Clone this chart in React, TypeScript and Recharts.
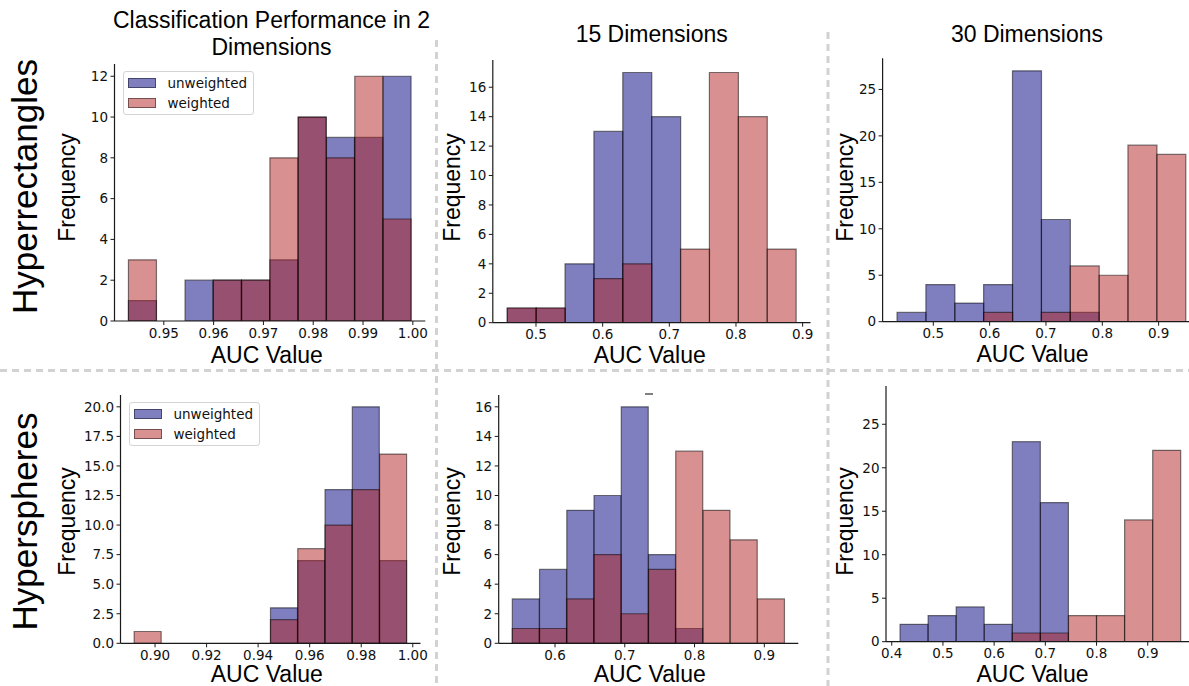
import React from "react";
import { ComposedChart, Bar, XAxis, YAxis, Legend } from "recharts";

// --- data (10 histogram bins per panel) ---
const seriesNames = ["unweighted", "weighted"];
const rowLabels = ["Hyperrectangles", "Hyperspheres"];
const colTitles = [["Classification Performance in 2", "Dimensions"], ["15 Dimensions"], ["30 Dimensions"]];

const rect2Unweighted = [1, 0, 2, 2, 2, 3, 10, 9, 9, 12];
const rect2Weighted = [3, 0, 0, 2, 2, 8, 10, 8, 12, 5];
const rect15Unweighted = [1, 1, 4, 13, 17, 14, 0, 0, 0, 0];
const rect15Weighted = [1, 1, 0, 3, 4, 0, 5, 17, 14, 5];
const rect30Unweighted = [1, 4, 2, 4, 27, 11, 1, 0, 0, 0];
const rect30Weighted = [0, 0, 0, 1, 0, 1, 6, 5, 19, 18];
const sph2Unweighted = [0, 0, 0, 0, 0, 3, 7, 13, 20, 7];
const sph2Weighted = [1, 0, 0, 0, 0, 2, 8, 10, 13, 16];
const sph15Unweighted = [3, 5, 9, 10, 16, 6, 1, 0, 0, 0];
const sph15Weighted = [1, 1, 3, 6, 2, 5, 13, 9, 7, 3];
const sph30Unweighted = [2, 3, 4, 2, 23, 16, 0, 0, 0, 0];
const sph30Weighted = [0, 0, 0, 0, 1, 1, 3, 3, 14, 22];

// first and last bin edge of each histogram
const rect2Range = [0.9429, 0.9997];
const rect15Range = [0.4569, 0.8901];
const rect30Range = [0.4356, 0.948];
const sph2Range = [0.8919, 0.9977];
const sph15Range = [0.5388, 0.9292];
const sph30Range = [0.4162, 0.9645];

const rect2XTicks = [0.95, 0.96, 0.97, 0.98, 0.99, 1.0];
const rect15XTicks = [0.5, 0.6, 0.7, 0.8, 0.9];
const rect30XTicks = [0.5, 0.6, 0.7, 0.8, 0.9];
const sph2XTicks = [0.9, 0.92, 0.94, 0.96, 0.98, 1.0];
const sph15XTicks = [0.6, 0.7, 0.8, 0.9];
const sph30XTicks = [0.4, 0.5, 0.6, 0.7, 0.8, 0.9];

const rect2YTicks = [0, 2, 4, 6, 8, 10, 12];
const rect15YTicks = [0, 2, 4, 6, 8, 10, 12, 14, 16];
const rect30YTicks = [0, 5, 10, 15, 20, 25];
const sph2YTicks = [0, 2.5, 5, 7.5, 10, 12.5, 15, 17.5, 20];
const sph15YTicks = [0, 2, 4, 6, 8, 10, 12, 14, 16];
const sph30YTicks = [0, 5, 10, 15, 20, 25];

const buildRows = (range: number[], u: number[], w: number[]) => {
  const step = (range[1] - range[0]) / u.length;
  return u.map((v, i) => ({ auc: range[0] + step * (i + 0.5), unweighted: v, weighted: w[i] }));
};

const panels = [
  { rows: buildRows(rect2Range, rect2Unweighted, rect2Weighted), xDomain: [0.9401, 1.0025], yMax: 12.6, xTicks: rect2XTicks, yTicks: rect2YTicks, xDec: 2, yDec: 0, legend: true,
    plot: { l: 114.5, t: 64, r: 425.3, b: 321 }, box: { l: 70, t: 54, r: 436, b: 350 } },
  { rows: buildRows(rect15Range, rect15Unweighted, rect15Weighted), xDomain: [0.4352, 0.9118], yMax: 17.85, xTicks: rect15XTicks, yTicks: rect15YTicks, xDec: 1, yDec: 0, legend: false,
    plot: { l: 492.8, t: 60, r: 810.5, b: 322.7 }, box: { l: 450, t: 50, r: 826, b: 350 } },
  { rows: buildRows(rect30Range, rect30Unweighted, rect30Weighted), xDomain: [0.41, 0.9736], yMax: 28.35, xTicks: rect30XTicks, yTicks: rect30YTicks, xDec: 1, yDec: 0, legend: false,
    plot: { l: 882.6, t: 58.3, r: 1200.1, b: 321.7 }, box: { l: 845, t: 48, r: 1215, b: 350 } },
  { rows: buildRows(sph2Range, sph2Unweighted, sph2Weighted), xDomain: [0.8866, 1.003], yMax: 21, xTicks: sph2XTicks, yTicks: sph2YTicks, xDec: 2, yDec: 1, legend: true,
    plot: { l: 120.5, t: 395, r: 420.5, b: 643.3 }, box: { l: 70, t: 385, r: 436, b: 672 } },
  { rows: buildRows(sph15Range, sph15Unweighted, sph15Weighted), xDomain: [0.5193, 0.9487], yMax: 16.8, xTicks: sph15XTicks, yTicks: sph15YTicks, xDec: 1, yDec: 0, legend: false,
    plot: { l: 498.7, t: 395, r: 798.3, b: 643.3 }, box: { l: 455, t: 385, r: 826, b: 672 } },
  { rows: buildRows(sph30Range, sph30Unweighted, sph30Weighted), xDomain: [0.3888, 0.9919], yMax: 29.4, xTicks: sph30XTicks, yTicks: sph30YTicks, xDec: 1, yDec: 0, legend: false,
    plot: { l: 886, t: 386, r: 1194.8, b: 641.7 }, box: { l: 845, t: 376, r: 1215, b: 672 } },
];

const SANS = "'Liberation Sans', Arial, sans-serif";
const TICK_FONT = "'DejaVu Sans', sans-serif";
const patchColor: Record<string, string> = { unweighted: "rgba(0,0,128,0.5)", weighted: "rgba(178,34,34,0.5)" };

const renderLegend = (props: any) => (
  <div style={{ boxSizing: "border-box", width: 131, height: 44, border: "1px solid #d4d4d4", borderRadius: 3,
    background: "rgba(255,255,255,0.8)", padding: "1px 0 0 4px", fontFamily: TICK_FONT, fontSize: 13.5, color: "#111" }}>
    {(props.payload || []).map((entry: any) => (
      <div key={entry.value} style={{ display: "flex", alignItems: "center", height: 20 }}>
        <span style={{ boxSizing: "border-box", width: 28, height: 10, background: patchColor[entry.value], border: "1px solid rgba(0,0,0,0.45)" }} />
        <span style={{ marginLeft: 12 }}>{entry.value}</span>
      </div>
    ))}
  </div>
);

function Panel({ p }: { p: (typeof panels)[number] }) {
  const { plot, box } = p;
  const tick = { fontFamily: TICK_FONT, fontSize: 13.5, fill: "#111" };
  return (
    <div style={{ position: "absolute", left: box.l, top: box.t }}>
      <ComposedChart width={box.r - box.l} height={box.b - box.t} data={p.rows} barCategoryGap={0} barGap={0}
        margin={{ top: plot.t - box.t, right: box.r - plot.r, bottom: 0, left: 0 }}>
        <XAxis xAxisId="u" dataKey="auc" type="number" domain={p.xDomain} allowDataOverflow ticks={p.xTicks} interval={0}
          tickFormatter={(v: number) => v.toFixed(p.xDec)} height={box.b - plot.b} tick={tick} tickSize={4} tickMargin={3}
          axisLine={{ stroke: "#1a1a1a", strokeWidth: 1.2 }} tickLine={{ stroke: "#1a1a1a" }} />
        <XAxis xAxisId="w" dataKey="auc" type="number" domain={p.xDomain} allowDataOverflow hide />
        <YAxis type="number" domain={[0, p.yMax]} allowDataOverflow ticks={p.yTicks} interval={0}
          tickFormatter={(v: number) => v.toFixed(p.yDec)} width={plot.l - box.l} tick={tick} tickSize={4} tickMargin={2.5}
          axisLine={{ stroke: "#1a1a1a", strokeWidth: 1.2 }} tickLine={{ stroke: "#1a1a1a" }} />
        <Bar xAxisId="u" dataKey="unweighted" name={seriesNames[0]} fill="#000080" fillOpacity={0.5}
          stroke="#000" strokeOpacity={0.5} strokeWidth={1.2} isAnimationActive={false} />
        <Bar xAxisId="w" dataKey="weighted" name={seriesNames[1]} fill="#b22222" fillOpacity={0.5}
          stroke="#000" strokeOpacity={0.5} strokeWidth={1.2} isAnimationActive={false} />
        {p.legend && (
          <Legend layout="vertical" align="center" verticalAlign="middle" content={renderLegend}
            wrapperStyle={{ left: plot.l - box.l + 8, top: plot.t - box.t + 7, width: 131, height: 44 }} />
        )}
      </ComposedChart>
    </div>
  );
}

const freqX = [74.8, 459.8, 853.2];
const freqY = [187.5, 521.5];
const aucX = [266.8, 649.7, 1032.5];
const aucY = [[362.7, 362.7, 361.7], [682, 682, 681.5]];

export default function App() {
  return (
    <div style={{ position: "absolute", left: 0, top: 0, width: 1189, height: 686, overflow: "hidden", background: "#fff" }}>
      <svg width={1189} height={686} style={{ position: "absolute", left: 0, top: 0 }}>
        <g stroke="#d2d2d2" strokeWidth={3} strokeDasharray="7 5">
          <line x1={0} y1={370.5} x2={1189} y2={370.5} />
          <line x1={436.5} y1={40} x2={436.5} y2={686} />
          <line x1={828} y1={32} x2={828} y2={686} />
        </g>
      </svg>
      {panels.map((p, i) => <Panel key={i} p={p} />)}
      <svg width={1189} height={686} style={{ position: "absolute", left: 0, top: 0, pointerEvents: "none" }}>
        <g fontFamily={SANS} fontSize={23} fill="#000" textAnchor="middle">
          <text x={271.5} y={28.3}>{colTitles[0][0]}</text>
          <text x={271.5} y={55}>{colTitles[0][1]}</text>
          <text x={651.7} y={41.7}>{colTitles[1][0]}</text>
          <text x={1027} y={41.7}>{colTitles[2][0]}</text>
          {freqY.map((fy, r) => freqX.map((fx, c) => (
            <text key={`f${r}${c}`} x={0} y={0} transform={`translate(${fx},${fy}) rotate(-90)`}>Frequency</text>
          )))}
          {aucY.map((row, r) => aucX.map((ax, c) => (
            <text key={`a${r}${c}`} x={ax} y={row[c]}>AUC Value</text>
          )))}
        </g>
        <g fontFamily={SANS} fontSize={35} fill="#000" textAnchor="middle">
          <text x={0} y={0} transform="translate(37,186.5) rotate(-90)">{rowLabels[0]}</text>
          <text x={0} y={0} transform="translate(37,521.5) rotate(-90)">{rowLabels[1]}</text>
        </g>
        <line x1={645} y1={394} x2={653} y2={394} stroke="#000" strokeWidth={1} />
      </svg>
    </div>
  );
}
